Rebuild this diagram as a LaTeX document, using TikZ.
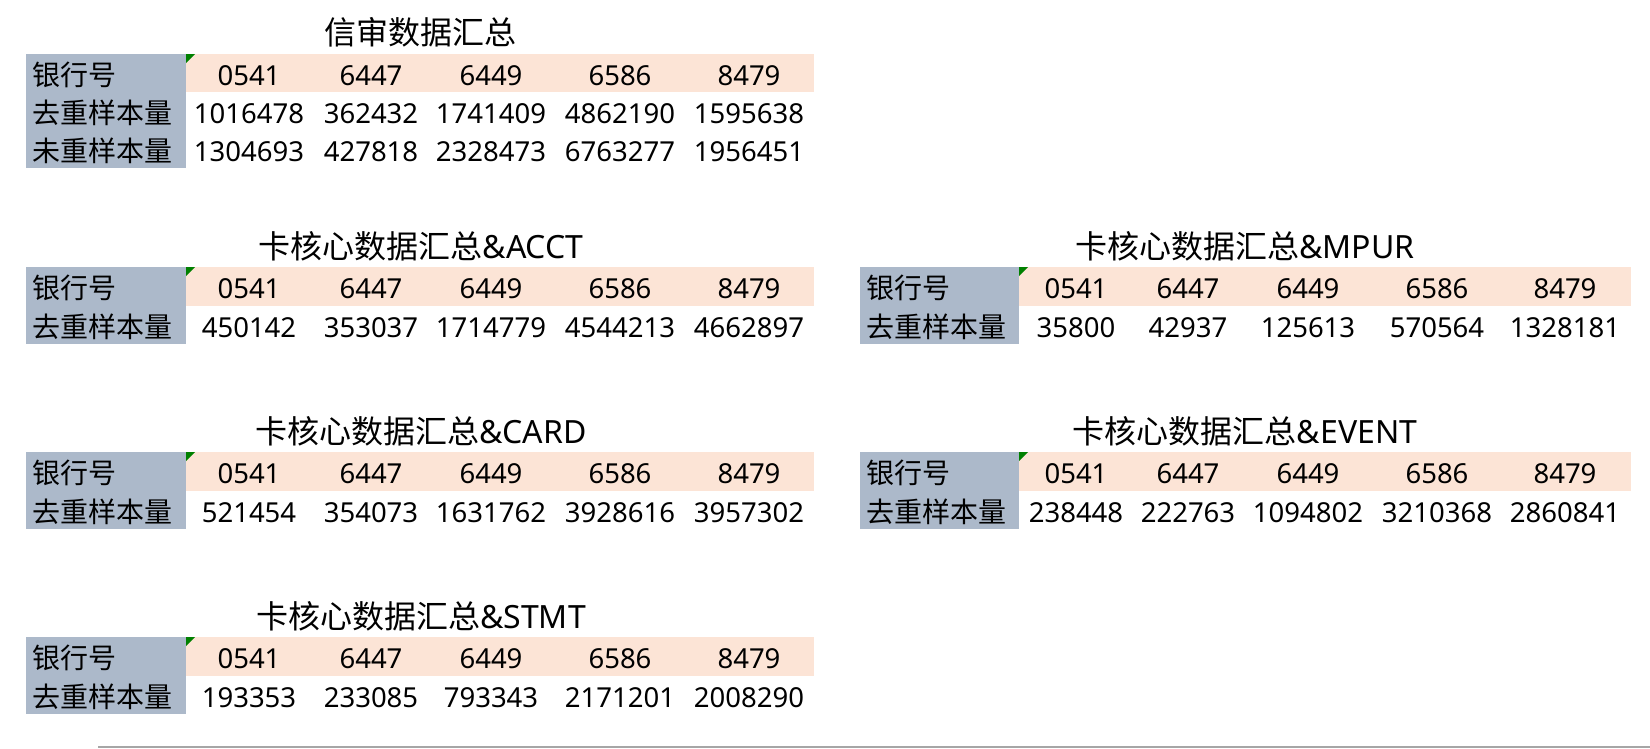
\documentclass[tikz,border=0pt]{standalone}
\usepackage{fontspec}
\setmainfont{Noto Sans CJK SC}
\newfontfamily\latinfont{Noto Sans}
\definecolor{hdrgray}{HTML}{ACB9CA}
\definecolor{peach}{HTML}{FCE4D6}
\definecolor{flaggreen}{HTML}{008000}
\definecolor{rulegray}{HTML}{A6A6A6}
\tikzset{
  cell/.style={anchor=base, inner sep=0pt, font=\latinfont\fontsize{27.5}{30}\selectfont},
  lbl/.style={anchor=base west, inner sep=0pt, font=\fontsize{28}{30}\selectfont},
  ttl/.style={anchor=base, inner sep=0pt, font=\fontsize{32}{34}\selectfont},
  gbox/.style={fill=hdrgray, draw=none},
  pbox/.style={fill=peach, draw=none},
  flag/.style={fill=flaggreen, draw=none},
}
\newcommand\lat[1]{{\latinfont #1}}
\begin{document}
\begin{tikzpicture}[x=1pt,y=-1pt]
\useasboundingbox[fill=white] (0,0) rectangle (1650,748);

% ---------- Table 1: 信审数据汇总 ----------
\fill[gbox] (26,54) rectangle (186,168);
\fill[pbox] (186,54) rectangle (814,92);
\fill[flag] (186,54) -- (195,54) -- (186,63) -- cycle;
\node[ttl] (t1) at (420,44) {信审数据汇总};
\node[lbl] (t1a) at (32,85) {银行号};
\node[lbl] (t1b) at (32,123) {去重样本量};
\node[lbl] (t1c) at (32,161) {未重样本量};
\foreach \x/\a/\b/\c [count=\i] in {249/0541/1016478/1304693, 371/6447/362432/427818, 491/6449/1741409/2328473, 620/6586/4862190/6763277, 749/8479/1595638/1956451}{
  \node[cell] (t1h\i) at (\x,85) {\a};
  \node[cell] (t1r\i) at (\x,123) {\b};
  \node[cell] (t1s\i) at (\x,161) {\c};
}

% ---------- ACCT ----------
\fill[gbox] (26,267) rectangle (186,344);
\fill[pbox] (186,267) rectangle (814,306);
\fill[flag] (186,267) -- (195,267) -- (186,276) -- cycle;
\node[ttl] (t2) at (421,258) {卡核心数据汇总\lat{\&ACCT}};
\node[lbl] (t2a) at (32,298) {银行号};
\node[lbl] (t2b) at (32,337) {去重样本量};
\foreach \x/\a/\b [count=\i] in {249/0541/450142, 371/6447/353037, 491/6449/1714779, 620/6586/4544213, 749/8479/4662897}{
  \node[cell] (t2h\i) at (\x,298) {\a};
  \node[cell] (t2r\i) at (\x,337) {\b};
}

% ---------- CARD ----------
\fill[gbox] (26,452) rectangle (186,529);
\fill[pbox] (186,452) rectangle (814,491);
\fill[flag] (186,452) -- (195,452) -- (186,461) -- cycle;
\node[ttl] (t3) at (421,443) {卡核心数据汇总\lat{\&CARD}};
\node[lbl] (t3a) at (32,483) {银行号};
\node[lbl] (t3b) at (32,522) {去重样本量};
\foreach \x/\a/\b [count=\i] in {249/0541/521454, 371/6447/354073, 491/6449/1631762, 620/6586/3928616, 749/8479/3957302}{
  \node[cell] (t3h\i) at (\x,483) {\a};
  \node[cell] (t3r\i) at (\x,522) {\b};
}

% ---------- STMT ----------
\fill[gbox] (26,637) rectangle (186,714);
\fill[pbox] (186,637) rectangle (814,676);
\fill[flag] (186,637) -- (195,637) -- (186,646) -- cycle;
\node[ttl] (t4) at (421,628) {卡核心数据汇总\lat{\&STMT}};
\node[lbl] (t4a) at (32,668) {银行号};
\node[lbl] (t4b) at (32,707) {去重样本量};
\foreach \x/\a/\b [count=\i] in {249/0541/193353, 371/6447/233085, 491/6449/793343, 620/6586/2171201, 749/8479/2008290}{
  \node[cell] (t4h\i) at (\x,668) {\a};
  \node[cell] (t4r\i) at (\x,707) {\b};
}

% ---------- MPUR ----------
\fill[gbox] (860,267) rectangle (1019,344);
\fill[pbox] (1019,267) rectangle (1631,306);
\fill[flag] (1019,267) -- (1028,267) -- (1019,276) -- cycle;
\node[ttl] (t5) at (1245,258) {卡核心数据汇总\lat{\&MPUR}};
\node[lbl] (t5a) at (866,298) {银行号};
\node[lbl] (t5b) at (866,337) {去重样本量};
\foreach \x/\a/\b [count=\i] in {1076/0541/35800, 1188/6447/42937, 1308/6449/125613, 1437/6586/570564, 1565/8479/1328181}{
  \node[cell] (t5h\i) at (\x,298) {\a};
  \node[cell] (t5r\i) at (\x,337) {\b};
}

% ---------- EVENT ----------
\fill[gbox] (860,452) rectangle (1019,529);
\fill[pbox] (1019,452) rectangle (1631,491);
\fill[flag] (1019,452) -- (1028,452) -- (1019,461) -- cycle;
\node[ttl] (t6) at (1245,443) {卡核心数据汇总\lat{\&EVENT}};
\node[lbl] (t6a) at (866,483) {银行号};
\node[lbl] (t6b) at (866,522) {去重样本量};
\foreach \x/\a/\b [count=\i] in {1076/0541/238448, 1188/6447/222763, 1308/6449/1094802, 1437/6586/3210368, 1565/8479/2860841}{
  \node[cell] (t6h\i) at (\x,483) {\a};
  \node[cell] (t6r\i) at (\x,522) {\b};
}

% bottom rule
\draw[rulegray, line width=1.5pt] (98,747) -- (1650,747);
\end{tikzpicture}
\end{document}
